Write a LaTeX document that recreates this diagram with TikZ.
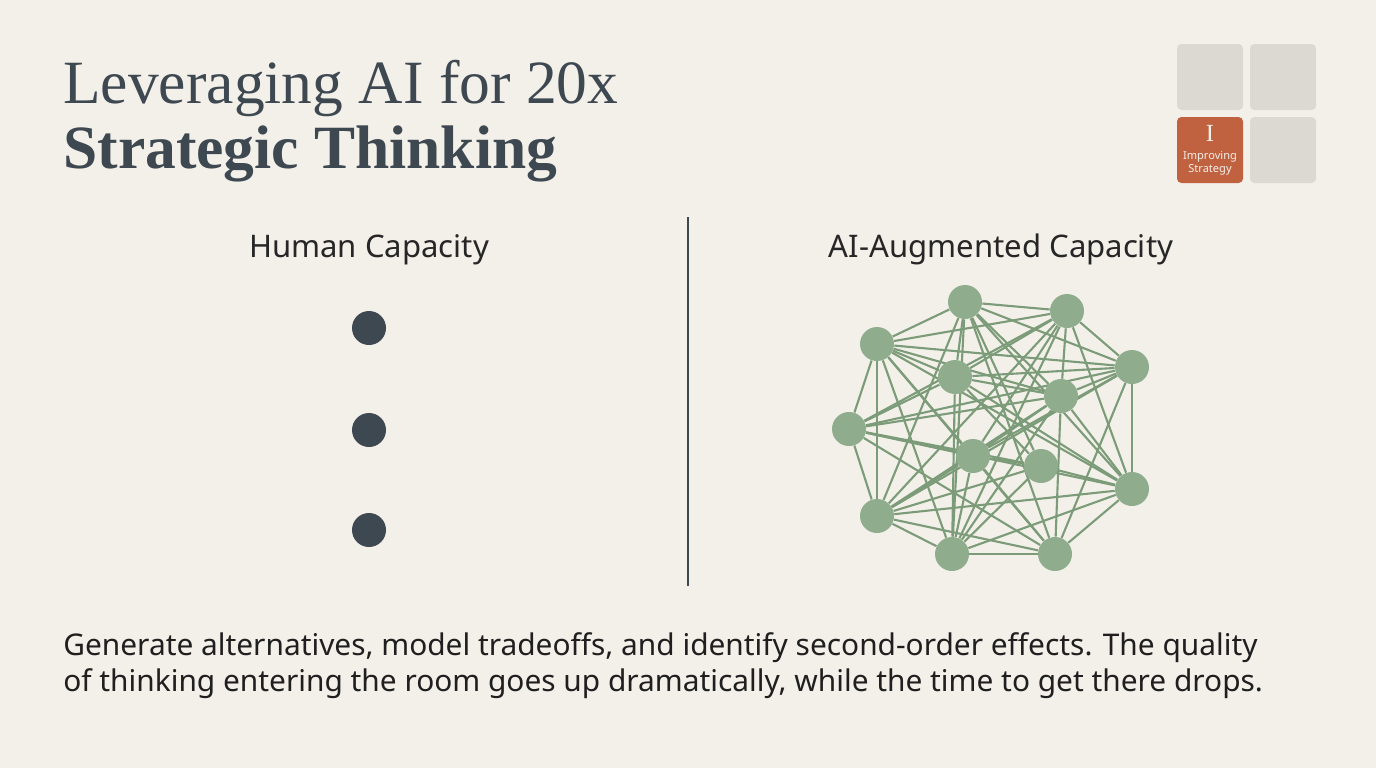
\documentclass[tikz,border=0pt]{standalone}
\usepackage{fontspec}
\setmainfont{Liberation Serif}
\setsansfont{Noto Sans}
\usetikzlibrary{positioning,calc}
\definecolor{paper}{RGB}{243,240,234}
\definecolor{ink}{RGB}{62,72,81}
\definecolor{sage}{RGB}{143,173,140}
\definecolor{sageline}{RGB}{124,156,121}
\definecolor{tilegray}{RGB}{220,217,211}
\definecolor{rust}{RGB}{192,98,64}
\pgfdeclarelayer{bg}
\pgfdeclarelayer{links}
\pgfsetlayers{bg,links,main}

\begin{document}
\begin{tikzpicture}[x=0.02cm,y=-0.02cm,
          ttl/.style={font=\fontsize{35}{40}\selectfont,text=ink,anchor=base west,inner sep=0pt},
          colhead/.style={font=\sffamily\fontsize{17.7}{21}\selectfont,text=black!85,anchor=base,inner sep=0pt},
          body/.style={font=\sffamily\fontsize{17}{20.4}\selectfont,text=black!88,anchor=base west,
                       align=left,inner sep=0pt},
          hdot/.style={circle,fill=ink,minimum size=34*0.02cm,inner sep=0pt},
          hub/.style={circle,fill=sage,minimum size=34*0.02cm,inner sep=0pt},
          ln/.style={draw=sageline,line width=1.2pt},
          tile/.style={fill=tilegray,rounded corners=2.5pt,minimum size=66*0.02cm,inner sep=0pt},
          hot/.style={tile,fill=rust,text=paper,font=\sffamily\fontsize{6.3}{7.2}\selectfont,align=center}
        ]
        \begin{pgfonlayer}{bg}
          \fill[paper] (0,0) rectangle (1376,768);
        \end{pgfonlayer}
        \useasboundingbox (0,0) rectangle (1376,768);

        % title
        \node[ttl] (t1) at (63,103) {Leveraging AI for 20x};
        \node[ttl,font=\fontsize{35}{40}\selectfont\bfseries] (t2) at (63,168) {Strategic Thinking};

        % step tiles
        \node[tile] (s1) at (1210,77) {};
        \node[tile] (s2) at (1283,77) {};
        \node[hot] (s3) at (1210,150) {{\rmfamily\fontsize{14}{15}\selectfont I}\\[3pt]Improving\\Strategy};
        \node[tile] (s4) at (1283,150) {};

        % columns
        \node[colhead] (hl) at (369,257) {Human Capacity};
        \node[colhead] (hr) at (1001,257) {AI-Augmented Capacity};
        \coordinate (vt) at (688,217);
        \coordinate (vb) at (688,586);
        \draw[ink,line width=1.1pt] (vt) -- (vb);

        \node[hdot] (d1) at (369,328) {};
        \node[hdot] (d2) at (369,430) {};
        \node[hdot] (d3) at (369,530) {};

        % network
        \foreach \n/\x/\y in {a/965/302,b/1067/311,c/877/344,d/1132/367,e/955/377,f/1061/396,g/849/429,
                              h/973/456,i/1041/466,j/1132/489,k/877/516,l/952/554,m/1055/554}
          \node[hub] (\n) at (\x,\y) {};
        \begin{pgfonlayer}{links}
          \foreach \a/\b in {a/b,a/c,a/d,a/e,a/f,a/i,a/k,a/l,a/m,a/j,
                             b/c,b/d,b/e,b/f,b/g,b/h,b/k,b/l,b/j,
                             c/d,c/e,c/f,c/g,c/h,c/k,c/l,c/m,c/j,
                             d/e,d/f,d/g,d/h,d/j,d/k,d/m,
                             e/f,e/g,e/i,e/j,e/l,
                             f/g,f/h,f/j,f/k,f/l,f/m,
                             g/h,g/i,g/j,g/k,g/m,
                             h/i,h/k,h/l,h/m,
                             i/k,i/l,i/j,
                             j/k,j/l,j/m,k/l,k/m,l/m}
            \draw[ln] (\a) -- (\b);
        \end{pgfonlayer}

        % caption
        \node[body] (cap1) at (63,655) {Generate alternatives, model tradeoffs, and identify second-order effects. The quality};
        \node[body] (cap2) at (63,691) {of thinking entering the room goes up dramatically, while the time to get there drops.};
      \end{tikzpicture}
\end{document}
